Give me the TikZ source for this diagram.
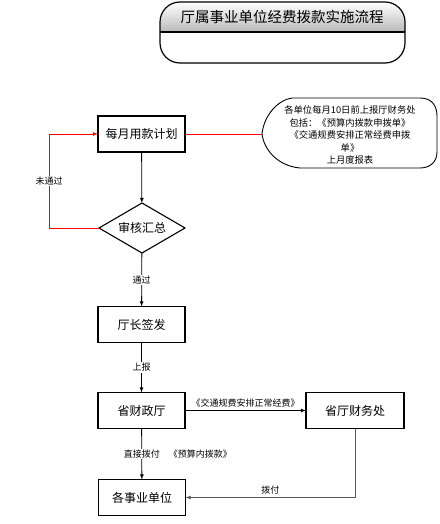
\documentclass[tikz,border=0pt]{standalone}
\usepackage{fontspec}
\newfontfamily\cjk{Noto Sans CJK SC}
\usepackage{tikz}
\usetikzlibrary{shapes,arrows,positioning,calc}

\begin{document}
\begin{tikzpicture}[x=1pt,y=-1pt,every node/.style={outer sep=0pt,font=\cjk}]
\tikzstyle{box}=[draw,line width=1.2pt,minimum width=87pt,minimum height=36pt,
font=\cjk\fontsize{12}{14}\selectfont]
\tikzstyle{check}=[draw,diamond,aspect=1.7,inner sep=0pt,line width=1.1pt,
minimum width=86pt,minimum height=50pt,font=\cjk\fontsize{12}{14}\selectfont]
\tikzstyle{lbl}=[fill=white,text=black,inner sep=1pt,font=\cjk\fontsize{9}{11}\selectfont]
\tikzstyle{flow}=[-latex,line width=0.8pt]
\useasboundingbox (0,0) rectangle (439,524);
\begin{scope}
\clip[rounded corners=20pt] (160,2) rectangle (405,63);
\shade[top color=white,bottom color=gray!55] (160,2) rectangle (405,32);
\end{scope}
\draw[line width=1.2pt,rounded corners=20pt] (160,2) rectangle (405,63);
\draw[line width=1.6pt] (160,32) -- (405,32);
\node (T) at (282,17) [font=\cjk\fontsize{14.5}{16}\selectfont] {厅属事业单位经费拨款实施流程};
\node (P) [box] at (141.5,134) {每月用款计划};
\node (A) [check] at (142,228) {审核汇总};
\node (S) [box] at (141.5,324.5) {厅长签发};
\node (F) [box] at (141.5,410.5) {省财政厅};
\node (D) [box,minimum width=98pt] at (355,410.5) {省厅财务处};
\node (U) [box] at (142,497.5) {各事业单位};
\draw[line width=0.9pt] (262,134) .. controls (264,115) and (278,100) .. (292,98) -- (420,98)
.. controls (432,98) and (437,106) .. (437,116) -- (437,152) .. controls (437,162) and (430,168) ..
(420,168) -- (300,168) .. controls (278,166) and (264,150) .. (262,134) -- cycle;
\coordinate (N) at (262,134);
\node (R) at (350,135) [align=center,font=\cjk\fontsize{9.3}{12.5}\selectfont]
{各单位每月10日前上报厅财务处\\包括：《预算内拨款申拨单》\\《交通规费安排正常经费申拨\\单》\\上月度报表};
\draw[flow] (P) -- (A);
\draw[flow,red] (A.west) -- ++(-50,0) -- node[lbl]{未通过} ++(0,-94) -- (P.west);
\draw[red,line width=0.8pt] (P.east) -- (N);
\draw[flow] (A) -- node[lbl]{通过} (S);
\draw[flow] (S) -- node[lbl]{上报} (F);
\draw[flow] (F) -- node[above,font=\cjk\fontsize{9}{11}\selectfont]{《交通规费安排正常经费》} (D);
\draw[flow] (F) -- node[lbl,anchor=west,xshift=-19pt]{直接拨付\quad《预算内拨款》} (U);
\draw[flow,gray!70!black] (D) |- node[above,pos=0.75,text=black,font=\cjk\fontsize{9}{11}\selectfont]{拨付} (U);
\end{tikzpicture}
\end{document}
